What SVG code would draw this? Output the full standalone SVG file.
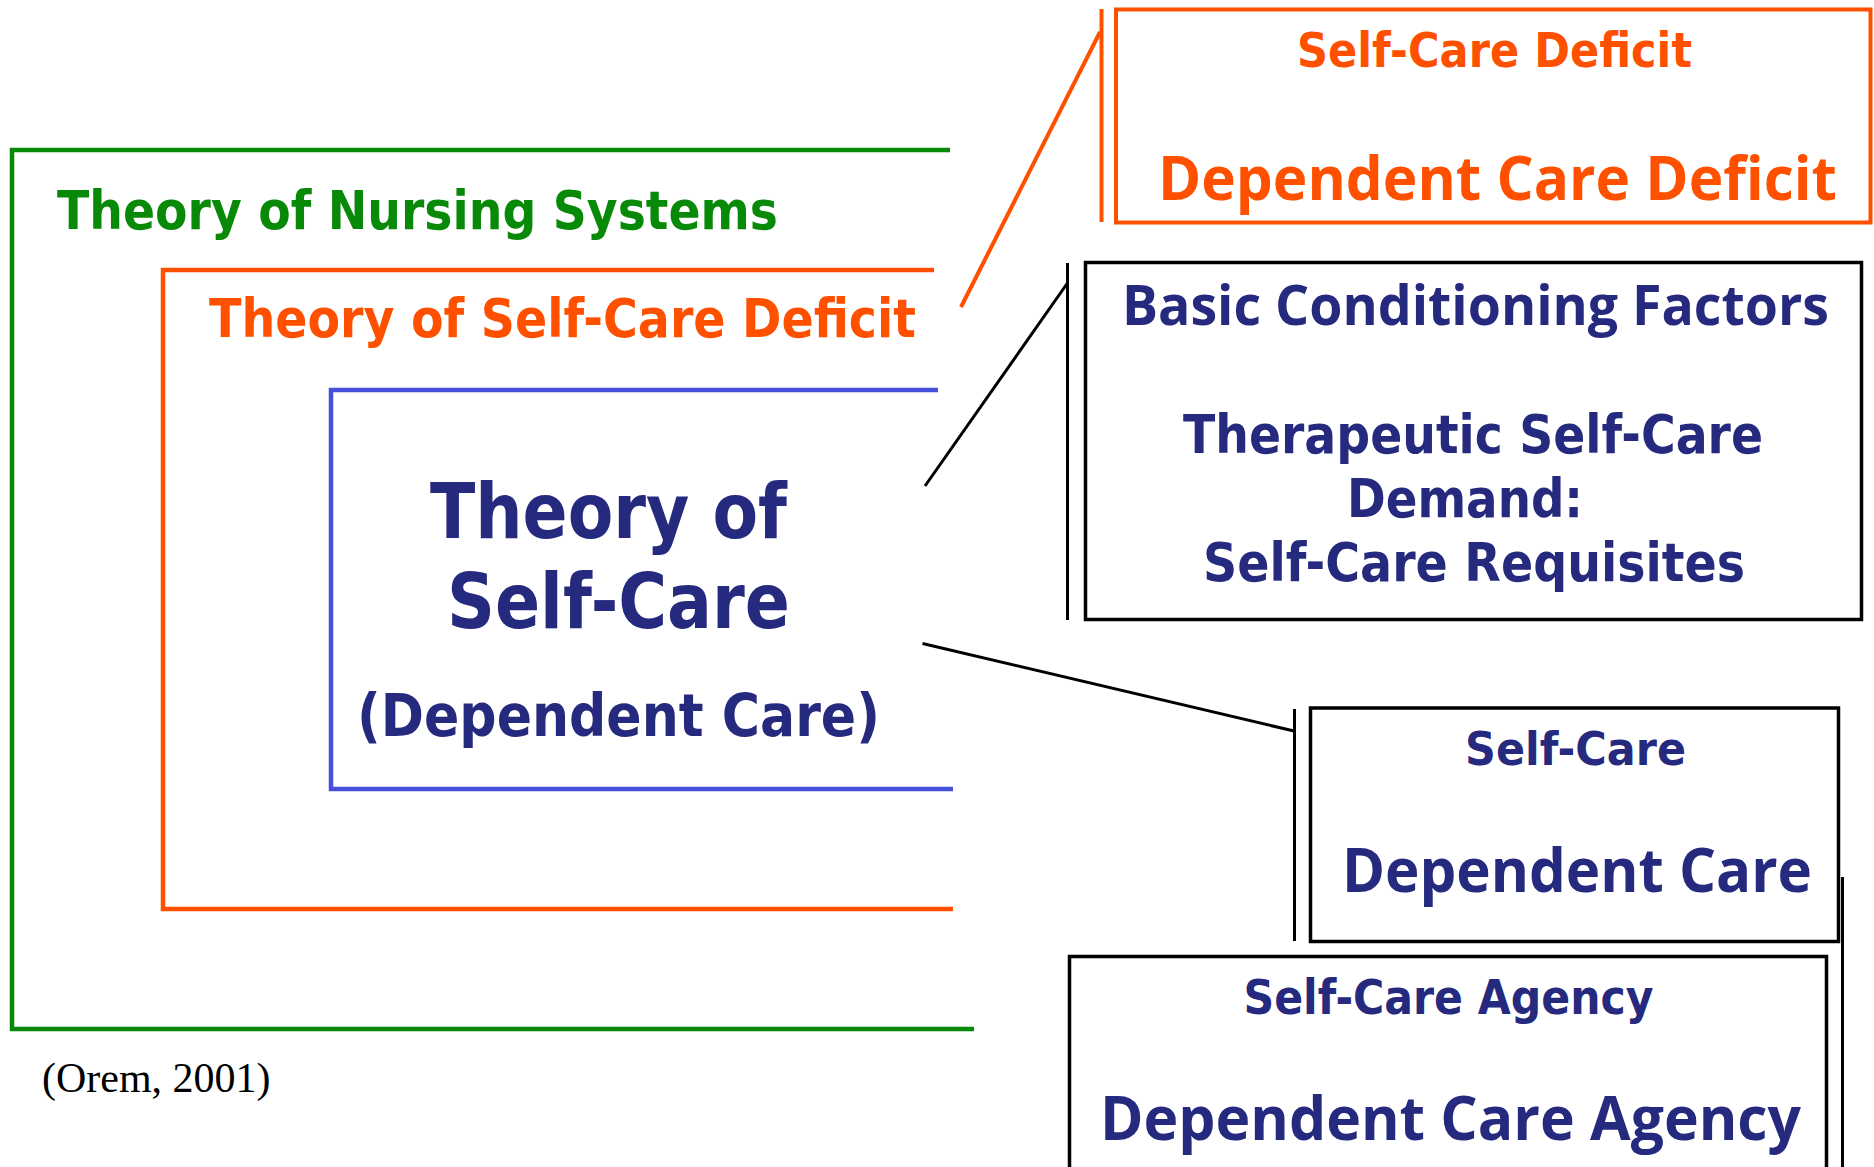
<svg xmlns="http://www.w3.org/2000/svg" width="1874" height="1167" viewBox="0 0 1874 1167">
<style>
.t{font-family:"DejaVu Sans","Liberation Sans",sans-serif;font-weight:bold;}
.w{font-family:"Open Sans","DejaVu Sans",sans-serif;}
.navy{fill:#262A7F;}
.org{fill:#FF5000;}
.grn{fill:#088A08;}
.box{fill:none;stroke:#000;stroke-width:3.5;}
.ln{fill:none;stroke:#000;stroke-width:3;}
</style>
<rect width="1874" height="1167" fill="#fff"/>
<g id="nursing-systems">
<path d="M950 150 H12 V1029 H974" fill="none" stroke="#088A08" stroke-width="4.5"/>
<text class="t grn" x="57" y="229" font-size="54" textLength="721" lengthAdjust="spacingAndGlyphs">Theory of Nursing Systems</text>
</g>
<g id="self-care-deficit-theory">
<path d="M934 270 H163 V909 H953" fill="none" stroke="#FF5000" stroke-width="4.5"/>
<text class="t org" x="209" y="337" font-size="54" textLength="707" lengthAdjust="spacingAndGlyphs">Theory of Self-Care Deficit</text>
</g>
<g id="self-care-theory">
<path d="M938 390 H331 V789 H953" fill="none" stroke="#4650D8" stroke-width="4.5"/>
<text class="t navy" x="430" y="538" font-size="76" textLength="357" lengthAdjust="spacingAndGlyphs">Theory of</text>
<text class="t navy" x="447" y="628" font-size="76" textLength="343" lengthAdjust="spacingAndGlyphs">Self-Care</text>
<text class="t navy" x="357" y="736" font-size="59" textLength="523" lengthAdjust="spacingAndGlyphs">(Dependent Care)</text>
</g>
<g id="connectors">
<line x1="961" y1="307" x2="1100" y2="32" stroke="#FF5000" stroke-width="4"/>
<line x1="1101.5" y1="9" x2="1101.5" y2="222" stroke="#FF5000" stroke-width="4"/>
<line class="ln" x1="925" y1="486" x2="1067.5" y2="283"/>
<line class="ln" x1="1067.5" y1="263" x2="1067.5" y2="620"/>
<line class="ln" x1="922.5" y1="643.5" x2="1294" y2="731"/>
<line class="ln" x1="1294.5" y1="709" x2="1294.5" y2="941"/>
<line class="ln" x1="1842.5" y1="877" x2="1842.5" y2="1167" stroke-width="3.5"/>
</g>
<g id="deficit-box">
<rect x="1116" y="9.5" width="754.5" height="213" fill="none" stroke="#FF5000" stroke-width="4"/>
<text class="t org" x="1297" y="67" font-size="48" textLength="395" lengthAdjust="spacingAndGlyphs">Self-Care Deficit</text>
<text class="t w org" x="1158" y="200" font-size="60" textLength="679" lengthAdjust="spacingAndGlyphs">Dependent Care Deficit</text>
</g>
<g id="factors-box">
<rect class="box" x="1085.5" y="262.5" width="776" height="357"/>
<text class="t w navy" x="1122" y="325" font-size="55" textLength="707" lengthAdjust="spacingAndGlyphs">Basic Conditioning Factors</text>
<text class="t navy" x="1183" y="453" font-size="54" textLength="580" lengthAdjust="spacingAndGlyphs">Therapeutic Self-Care</text>
<text class="t navy" x="1347" y="517" font-size="54" textLength="236" lengthAdjust="spacingAndGlyphs">Demand:</text>
<text class="t navy" x="1203" y="581" font-size="54" textLength="542" lengthAdjust="spacingAndGlyphs">Self-Care Requisites</text>
</g>
<g id="self-care-box">
<rect class="box" x="1310.5" y="708" width="528" height="233.5"/>
<text class="t navy" x="1465" y="765" font-size="47" textLength="221" lengthAdjust="spacingAndGlyphs">Self-Care</text>
<text class="t w navy" x="1342" y="891.5" font-size="60" textLength="470" lengthAdjust="spacingAndGlyphs">Dependent Care</text>
</g>
<g id="agency-box">
<rect class="box" x="1069.5" y="956.5" width="757" height="250"/>
<text class="t navy" x="1243.5" y="1014" font-size="48" textLength="410" lengthAdjust="spacingAndGlyphs">Self-Care Agency</text>
<text class="t w navy" x="1100" y="1140" font-size="60" textLength="701" lengthAdjust="spacingAndGlyphs">Dependent Care Agency</text>
</g>
<g id="citation">
<text x="42" y="1092" font-family="'Liberation Serif','Times New Roman',serif" font-size="42" fill="#000">(Orem, 2001)</text>
</g>
</svg>
